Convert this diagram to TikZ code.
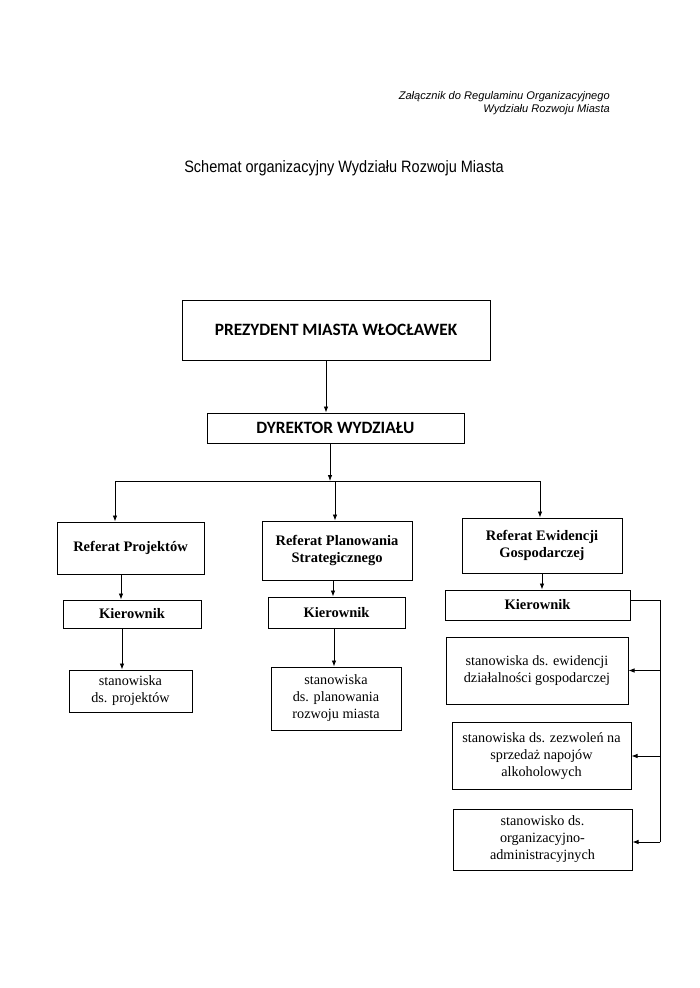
\documentclass[tikz,border=0pt]{standalone}
\usepackage{fontspec}
\setmainfont{Liberation Serif}
\newfontfamily\arialf{Liberation Sans}
\newfontfamily\arialn[FakeStretch=0.88]{Liberation Sans}
\newfontfamily\calf{Carlito}
\usetikzlibrary{arrows.meta}
\begin{document}
\begin{tikzpicture}[x=1pt,y=-1pt,
  every node/.style={inner sep=0pt},
  box/.style={draw,line width=1pt,align=center},
  topbox/.style={box,font=\calf\bfseries\fontsize{17.3}{20}\selectfont},
  refbox/.style={box,font=\bfseries\fontsize{14.5}{17}\selectfont},
  stbox/.style={box,font=\fontsize{14.2}{17}\selectfont},
  conn/.style={line width=0.75pt},
  arr/.style={conn,-{Latex[length=6pt,width=4.5pt]}}]
\useasboundingbox (0,0) rectangle (700,988);
% header
\node[anchor=east,align=right,font=\arialf\itshape\fontsize{11.1}{13}\selectfont] (hdr) at (610,103)
  {Załącznik do Regulaminu Organizacyjnego\\Wydziału Rozwoju Miasta};
\node[font=\arialn\fontsize{16.5}{19}\selectfont] (title) at (344,168) {Schemat organizacyjny Wydziału Rozwoju Miasta};
% top boxes
\node[topbox,minimum width=308pt,minimum height=60pt] (P) at (336,330) {PREZYDENT MIASTA WŁOCŁAWEK};
\node[topbox,minimum width=257pt,minimum height=30pt] (D) at (335.5,428) {DYREKTOR WYDZIAŁU};
% referaty
\node[refbox,minimum width=147pt,minimum height=52pt] (RP) at (130.5,548) {Referat Projektów};
\node[refbox,minimum width=150pt,minimum height=59pt] (RS) at (337,550.5) {Referat Planowania\\Strategicznego};
\node[refbox,minimum width=160pt,minimum height=55pt] (RE) at (542,545.5) {Referat Ewidencji\\Gospodarczej};
% kierownicy
\node[refbox,minimum width=138pt,minimum height=28pt] (K1) at (132,614) {Kierownik};
\node[refbox,minimum width=137pt,minimum height=31pt] (K2) at (336.5,612.5) {Kierownik};
\node[refbox,minimum width=185pt,minimum height=30pt] (K3) at (537.5,605) {Kierownik};
% stanowiska
\node[stbox,minimum width=123pt,minimum height=42pt] (S1) at (130.5,691) {stanowiska\\ds. projektów};
\node[stbox,minimum width=130pt,minimum height=63pt] (S2) at (336,698.5) {stanowiska\\ds. planowania\\rozwoju miasta};
\node[stbox,minimum width=182pt,minimum height=67pt] (E1) at (537,670.5) {stanowiska ds. ewidencji\\działalności gospodarczej};
\node[stbox,minimum width=179pt,minimum height=67pt] (E2) at (541.5,756) {stanowiska ds. zezwoleń na\\sprzedaż napojów\\alkoholowych};
\node[stbox,minimum width=179pt,minimum height=61pt] (E3) at (542.5,839.5) {stanowisko ds.\\organizacyjno-\\administracyjnych};
% connectors
\coordinate (pd) at (326,0);
\draw[arr] (P.south -| pd) -- (D.north -| pd);
\coordinate (bj) at (330,481);
\coordinate (bl) at (115,481);
\coordinate (bm) at (335,481);
\coordinate (br) at (540,481);
\draw[arr] (D.south -| bj) -- (bj);
\draw[conn] (bl) -- (br);
\draw[arr] (bl) -- (bl |- RP.north);
\draw[arr] (bm) -- (bm |- RS.north);
\draw[arr] (br) -- (br |- RE.north);
\coordinate (k1x) at (121,0);
\coordinate (k2x) at (333,0);
\coordinate (k3x) at (542,0);
\draw[arr] (RP.south -| k1x) -- (K1.north -| k1x);
\draw[arr] (RS.south -| k2x) -- (K2.north -| k2x);
\draw[arr] (RE.south -| k3x) -- (K3.north -| k3x);
\coordinate (s1x) at (122,0);
\coordinate (s2x) at (334,0);
\draw[arr] (K1.south -| s1x) -- (S1.north -| s1x);
\draw[arr] (K2.south -| s2x) -- (S2.north -| s2x);
\coordinate (rt) at (660,600);
\coordinate (rb) at (660,842);
\draw[conn] (K3.east |- rt) -- (rt) -- (rb);
\draw[arr] (rt |- E1.east) -- (E1.east);
\draw[arr] (rt |- E2.east) -- (E2.east);
\draw[arr] (rb) -- (rb -| E3.east);
\end{tikzpicture}
\end{document}
